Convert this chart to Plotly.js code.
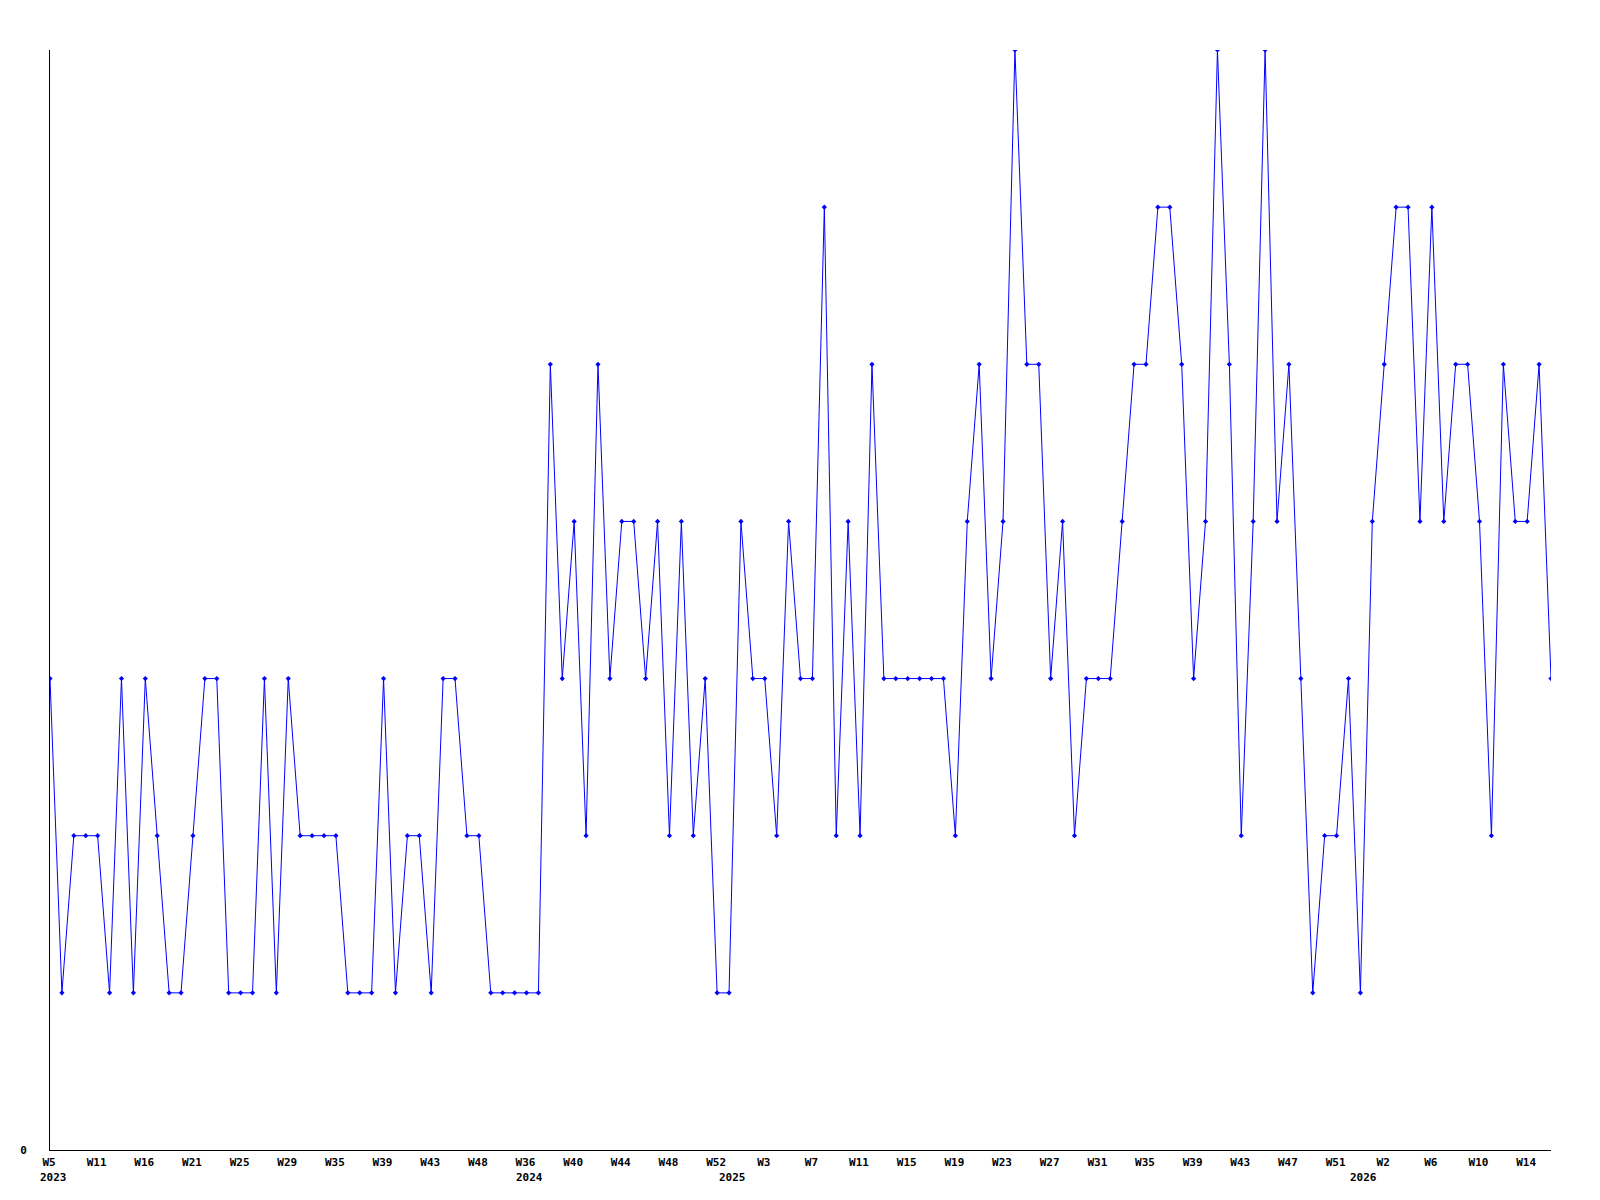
<!DOCTYPE html>
<html>
<head>
<meta charset="utf-8">
<script src="https://cdn.plot.ly/plotly-3.0.1.min.js"></script>
<style>
html, body { margin: 0; padding: 0; background: #ffffff; }
#chart { width: 1600px; height: 1200px; }
</style>
</head>
<body>
<div id="chart"></div>
<script>
// Weekly counts, one value per reported week (127 weeks)
const counts = [
  3, 1, 2, 2, 2, 1, 3, 1, 3, 2,
  1, 1, 2, 3, 3, 1, 1, 1, 3, 1,
  3, 2, 2, 2, 2, 1, 1, 1, 3, 1,
  2, 2, 1, 3, 3, 2, 2, 1, 1, 1,
  1, 1, 5, 3, 4, 2, 5, 3, 4, 4,
  3, 4, 2, 4, 2, 3, 1, 1, 4, 3,
  3, 2, 4, 3, 3, 6, 2, 4, 2, 5,
  3, 3, 3, 3, 3, 3, 2, 4, 5, 3,
  4, 7, 5, 5, 3, 4, 2, 3, 3, 3,
  4, 5, 5, 6, 6, 5, 3, 4, 7, 5,
  2, 4, 7, 4, 5, 3, 1, 2, 2, 3,
  1, 4, 5, 6, 6, 4, 6, 4, 5, 5,
  4, 2, 5, 4, 4, 5, 3
];

// Week tick labels, shown on every 4th week
const weekLabels = [
  "W5", "W11", "W16", "W21", "W25", "W29", "W35", "W39", "W43", "W48",
  "W36", "W40", "W44", "W48", "W52", "W3", "W7", "W11", "W15", "W19",
  "W23", "W27", "W31", "W35", "W39", "W43", "W47", "W51", "W2", "W6",
  "W10", "W14"
];
const weekLabelStep = 4;

// Year labels and the index of the first week of each year
const years = ["2023", "2024", "2025", "2026"];
const yearStartIndex = [0, 40, 57, 110];

const xIdx = counts.map((_, i) => i);
const tickVals = weekLabels.map((_, k) => k * weekLabelStep);

const monoFont = { family: "DejaVu Sans Mono, Liberation Mono, monospace", size: 11, color: "#000000", weight: "bold" };

const trace = {
  type: "scatter",
  mode: "lines+markers",
  x: xIdx,
  y: counts,
  line: { color: "#0000ff", width: 1 },
  marker: { color: "#0000ff", size: 4, symbol: "diamond" },
  hoverinfo: "x+y"
};

const annotations = years.map((yr, k) => ({
  text: yr,
  xref: "x", yref: "paper",
  x: yearStartIndex[k], y: 0,
  xanchor: "center", yanchor: "middle",
  xshift: 3, yshift: -27,
  showarrow: false,
  font: monoFont
}));

const layout = {
  width: 1600, height: 1200,
  paper_bgcolor: "#ffffff", plot_bgcolor: "#ffffff",
  margin: { l: 50, r: 49, t: 50, b: 50, pad: 0 },
  showlegend: false,
  xaxis: {
    range: [0, counts.length - 1],
    showgrid: false, zeroline: false,
    showline: true, linecolor: "#000000", linewidth: 1,
    ticks: "", tickvals: tickVals, ticktext: weekLabels,
    tickfont: monoFont, tickangle: 0,
    ticklabelstandoff: 2,
    ticklabelshift: -1
  },
  yaxis: {
    range: [0, 7],
    showgrid: false, zeroline: false,
    showline: true, linecolor: "#000000", linewidth: 1,
    ticks: "", tickvals: [0], ticktext: ["0"],
    tickfont: monoFont,
    ticklabelstandoff: 20
  },
  annotations: annotations
};

Plotly.newPlot("chart", [trace], layout, { displayModeBar: false, staticPlot: true });
</script>
</body>
</html>
